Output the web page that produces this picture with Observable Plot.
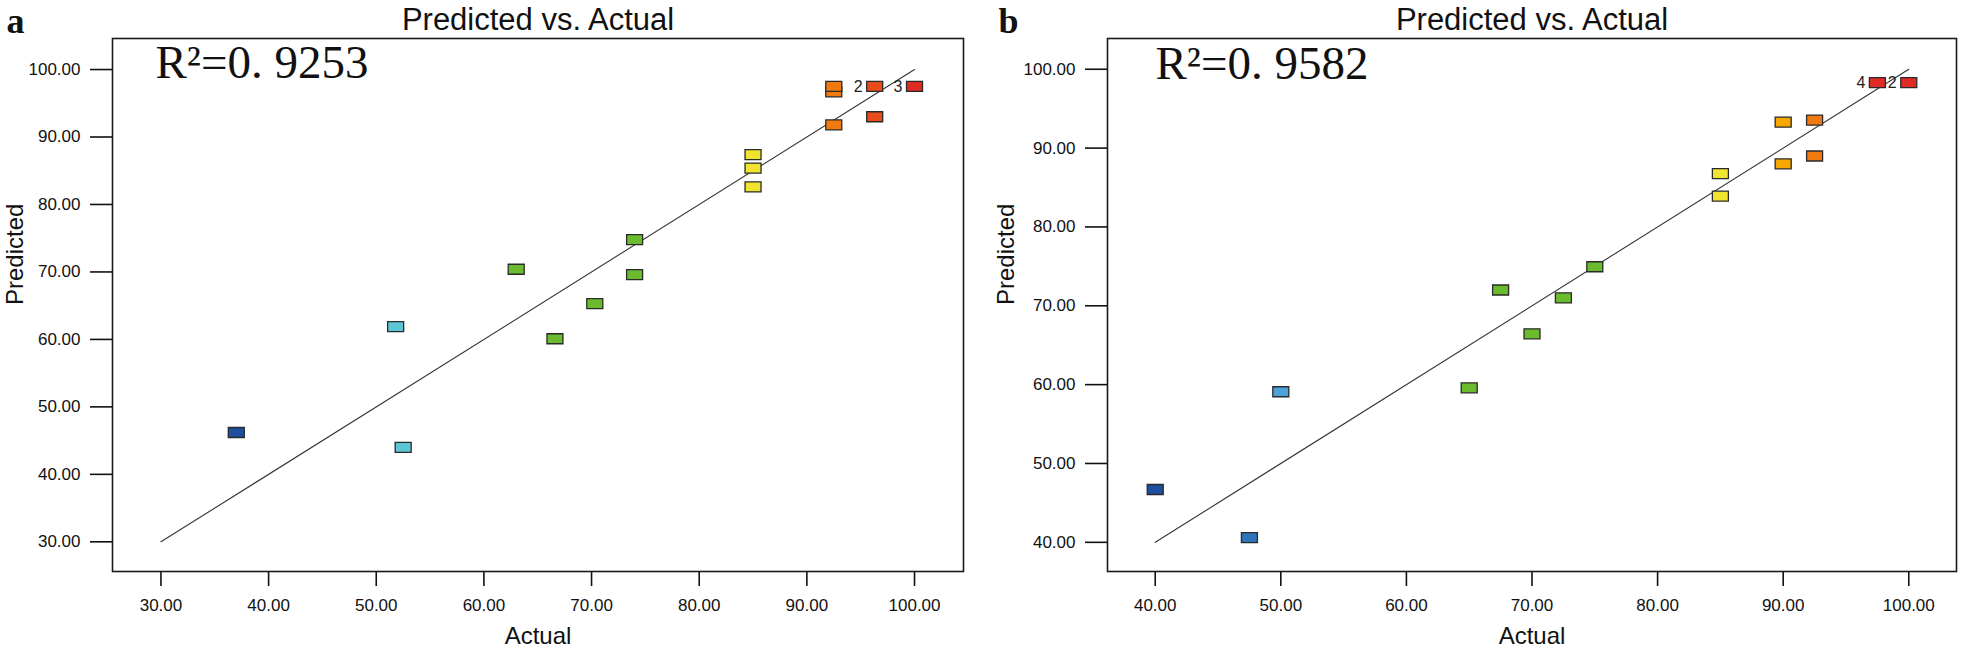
<!DOCTYPE html>
<html>
<head>
<meta charset="utf-8">
<script src="https://cdn.jsdelivr.net/npm/d3@7"></script>
<script src="https://cdn.jsdelivr.net/npm/@observablehq/plot@0.6"></script>
<style>
  html, body { margin: 0; padding: 0; background: #fff; }
  #wrap { position: relative; width: 1961px; height: 647px; overflow: hidden; background: #fff; }
  #wrap > div { position: absolute; top: 0; }
  svg { overflow: visible; }
</style>
</head>
<body>
<div id="wrap"><div id="pa" style="left:0"></div><div id="pb" style="left:980px"></div></div>
<script>
// ---- Panel a data ----
const actualA = [37, 51.8, 52.5, 63, 66.6, 70.3, 74, 74, 85, 85, 85, 92.5, 92.5, 92.5, 96.3, 96.3, 100];
const predA   = [46.2, 61.9, 44.0, 70.4, 60.1, 65.3, 74.8, 69.6, 87.4, 85.4, 82.6, 96.7, 97.5, 91.8, 97.5, 93.0, 97.5];
const groupA  = ["darkblue","cyan","cyan","green","green","green","green","green","yellow","yellow","yellow","orange","orange","orange","redorange","redorange","red"];
const countA  = ["", "", "", "", "", "", "", "", "", "", "", "", "", "", "2", "", "3"];
const r2A = "R²=0. 9253";
const ticksA = [30, 40, 50, 60, 70, 80, 90, 100];
const lineA = [30, 100];

// ---- Panel b data ----
const actualB = [40, 47.5, 50, 65, 67.5, 70, 72.5, 75, 85, 85, 90, 90, 92.5, 92.5, 97.5, 100];
const predB   = [46.7, 40.6, 59.1, 59.6, 72.0, 66.45, 71.0, 74.95, 86.75, 83.9, 93.3, 88.0, 93.55, 89.0, 98.3, 98.3];
const groupB  = ["darkblue","midblue","lightblue","green","green","green","green","green","yellow","yellow","amber","amber","orange","orange","red","red"];
const countB  = ["", "", "", "", "", "", "", "", "", "", "", "", "", "", "4", "2"];
const r2B = "R²=0. 9582";
const ticksB = [40, 50, 60, 70, 80, 90, 100];
const lineB = [40, 100];

const titleText = "Predicted vs. Actual";
const xLabel = "Actual";
const yLabel = "Predicted";

const groupNames = ["darkblue","midblue","lightblue","cyan","green","yellow","amber","orange","redorange","red"];
const palette    = ["#1d4f9e","#2f74b8","#4ba3d8","#5cc6d6","#6bbb2e","#f0e430","#f7a800","#f07a10","#e84c1a","#e02a24"];

const boxSymbol = {
  draw(context) {
    context.moveTo(-8, -5);
    context.lineTo(8, -5);
    context.lineTo(8, 5);
    context.lineTo(-8, 5);
    context.closePath();
  }
};

function panel({actual, pred, group, count, r2, ticks, line, letter, width, ml, mr, xdom, ydom, r2dx, r2dy, letterDx, ylabDx}) {
  const data = actual.map((a, i) => ({a, p: pred[i], g: group[i], n: count[i]}));
  const lineData = line.map(v => ({a: v, p: v}));
  const fmt = d3.format(".2f");
  return Plot.plot({
    width, height: 647,
    marginLeft: ml, marginRight: mr, marginTop: 38, marginBottom: 76,
    style: {fontFamily: "'Liberation Sans', Arial, sans-serif", fontSize: "17px", color: "#111", background: "transparent", overflow: "visible"},
    x: {domain: xdom},
    y: {domain: ydom},
    color: {domain: groupNames, range: palette},
    marks: [
      Plot.axisX({ticks, tickSize: 15, tickPadding: 12, tickFormat: fmt, label: null, fontSize: 17, strokeWidth: 1.6}),
      Plot.axisY({ticks, tickSize: 22, tickPadding: 10, tickFormat: fmt, label: null, fontSize: 17, strokeWidth: 1.6}),
      Plot.frame({stroke: "#1a1a1a", strokeWidth: 1.6}),
      Plot.line(lineData, {x: "a", y: "p", stroke: "#333", strokeWidth: 1.1}),
      Plot.dot(data, {x: "a", y: "p", fill: "g", symbol: boxSymbol, stroke: "#2a2a2a", strokeWidth: 1.3}),
      Plot.text(data.filter(d => d.n), {x: "a", y: "p", text: "n", dx: -12, textAnchor: "end", fontSize: 16, fill: "#222"}),
      Plot.text([titleText], {frameAnchor: "top", dy: -9, lineAnchor: "bottom", fontSize: 31, fill: "#111"}),
      Plot.text([letter], {frameAnchor: "top-left", dx: letterDx, dy: -6, textAnchor: "start", lineAnchor: "bottom", fontSize: 36, fontWeight: "bold", fontFamily: "'Liberation Serif', 'Times New Roman', serif", fill: "#111"}),
      Plot.text([r2], {frameAnchor: "top-left", dx: r2dx, dy: r2dy, textAnchor: "start", lineAnchor: "bottom", fontSize: 47, fontFamily: "'Liberation Serif', 'Times New Roman', serif", fill: "#111"}),
      Plot.text([xLabel], {frameAnchor: "bottom", dy: 72, lineAnchor: "bottom", fontSize: 24, fill: "#111"}),
      Plot.text([yLabel], {frameAnchor: "left", dx: ylabDx, rotate: -90, lineAnchor: "middle", fontSize: 24, fill: "#111"})
    ]
  });
}

document.getElementById("pa").appendChild(panel({
  actual: actualA, pred: predA, group: groupA, count: countA, r2: r2A, ticks: ticksA, line: lineA, letter: "a",
  width: 980, ml: 112, mr: 17, xdom: [25.5, 104.55], ydom: [25.6, 104.6], r2dx: 43, r2dy: 39, letterDx: -106, ylabDx: -97
}));
document.getElementById("pb").appendChild(panel({
  actual: actualB, pred: predB, group: groupB, count: countB, r2: r2B, ticks: ticksB, line: lineB, letter: "b",
  width: 981, ml: 127, mr: 5, xdom: [36.2, 103.8], ydom: [36.3, 103.9], r2dx: 48, r2dy: 40, letterDx: -109, ylabDx: -101
}));
</script>
</body>
</html>
